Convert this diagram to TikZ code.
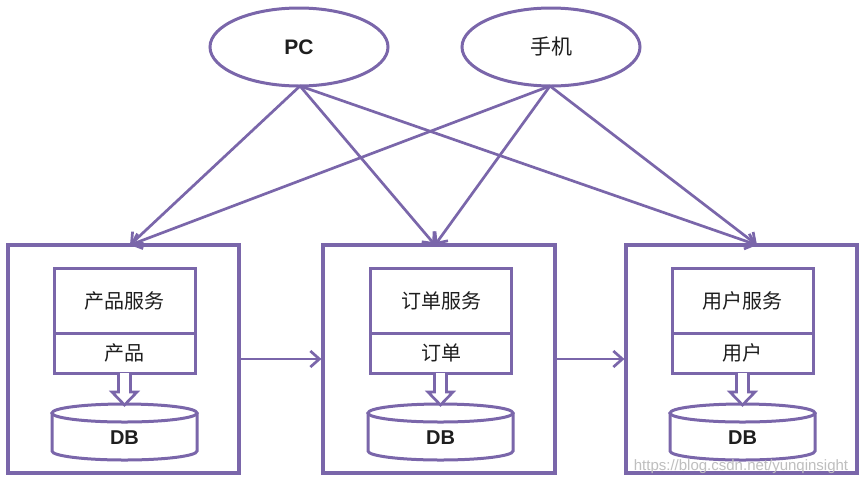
\documentclass[tikz,border=0pt]{standalone}
\usepackage{fontspec}
\setmainfont{Liberation Sans}
\newfontfamily\cjk{Noto Sans CJK SC}
\usetikzlibrary{arrows.meta,calc,shapes.geometric}
\definecolor{lilac}{RGB}{122,102,170}
\definecolor{ink}{RGB}{30,30,30}
\begin{document}
\begin{tikzpicture}[x=1pt,y=-1pt,
  outerbox/.style={draw=lilac,line width=3.2pt,minimum width=231pt,minimum height=228pt,inner sep=0pt},
  svcbox/.style={draw=lilac,line width=3pt,minimum width=141pt,minimum height=65pt,inner sep=0pt,font=\cjk\fontsize{20}{24}\selectfont,text=ink},
  tblbox/.style={draw=lilac,line width=3pt,minimum width=141pt,minimum height=40pt,inner sep=0pt,font=\cjk\fontsize{20}{24}\selectfont,text=ink},
  client/.style={draw=lilac,line width=3pt,ellipse,minimum width=178pt,minimum height=78pt,inner sep=0pt,text=ink},
  conn/.style={draw=lilac,line width=2.7pt,-{Straight Barb[length=9pt,width=16pt,line width=2.7pt]}},
  dbtext/.style={font=\bfseries\fontsize{20}{24}\selectfont,text=ink,inner sep=0pt},
  dbline/.style={draw=lilac,line width=3pt,fill=white},
  fat/.style={draw=lilac,line width=2.7pt,fill=white,line join=miter}
]
\useasboundingbox (0,0) rectangle (866,485);
\fill[white] (0,0) rectangle (866,485);

% clients
\node[client,font=\bfseries\fontsize{21}{24}\selectfont] (pc) at (299,47) {PC};
\node[client,font=\cjk\fontsize{21}{24}\selectfont] (phone) at (551,47) {手机};

% outer boxes
\node[outerbox] (b1) at (123.5,359) {};
\node[outerbox,minimum width=232pt] (b2) at (439,359) {};
\node[outerbox] (b3) at (741.5,359) {};

% service boxes
\node[svcbox] (s1) at (124.5,300.5) {产品服务};
\node[tblbox] (t1) at (124.5,353) {产品};
\node[svcbox] (s2) at (441,300.5) {订单服务};
\node[tblbox] (t2) at (441,353) {订单};
\node[svcbox] (s3) at (742.5,300.5) {用户服务};
\node[tblbox] (t3) at (742.5,353) {用户};

% databases
\foreach \i/\c in {1/124.5,2/440.5,3/742.5}{
  \draw[dbline] (\c-72.5,413) -- (\c-72.5,451) arc[start angle=180,end angle=0,x radius=72.5,y radius=9] -- (\c+72.5,413);
  \draw[dbline] (\c,413) ellipse[x radius=72.5,y radius=9];
  \node[dbtext] (db\i) at (\c,438) {DB};
  \draw[fat] (\c-6,373) -- (\c-6,392) -- (\c-12.5,392) -- (\c,405) -- (\c+12.5,392) -- (\c+6,392) -- (\c+6,373);
}

% arrow targets
\coordinate (pcs) at (300,86);
\coordinate (phs) at (550,86);
\coordinate (in1) at (130,245);
\coordinate (in2) at (435,245);
\coordinate (in3) at (757,245);

\draw[conn] (pcs) -- (in1);
\draw[conn] (pcs) -- (in2);
\draw[conn] (pcs) -- (in3);
\draw[conn] (phs) -- (in1);
\draw[conn] (phs) -- (in2);
\draw[conn] (phs) -- (in3);

\draw[conn] (b1.east) -- (b2.west);
\draw[conn] (b2.east) -- (b3.west);

% watermark
\node[text=black!25,font=\fontsize{15}{18}\selectfont,inner sep=0pt] (wm) at (741,467) {https://blog.csdn.net/yunqinsight};
\end{tikzpicture}
\end{document}
